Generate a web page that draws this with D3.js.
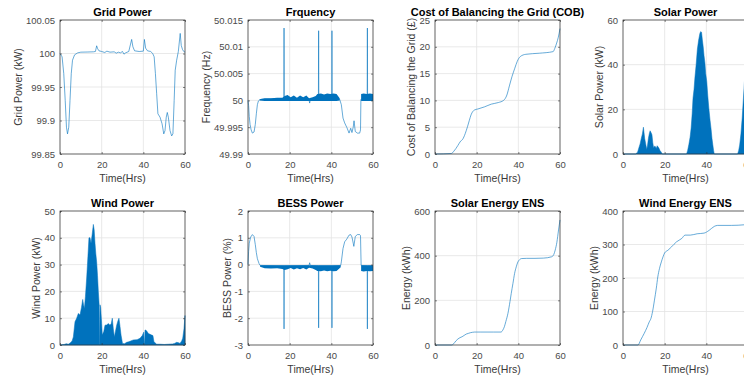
<!DOCTYPE html>
<html>
<head>
<meta charset="utf-8">
<script src="https://cdn.jsdelivr.net/npm/d3@7"></script>
<style>
  body { margin: 0; background: #fff; }
  svg { display: block; font-family: "Liberation Sans", Arial, sans-serif; }
  .tick text { fill: #4a4a4a; font-size: 9.5px; }
</style>
</head>
<body>
<svg id="chart" width="744" height="380"></svg>
<script>
// ---- data (time in hours) ----
const xTicks = [0, 20, 40, 60];

const gridT = [0, 1.0, 1.8, 2.5, 3.1, 3.6, 4.2, 4.8, 5.4, 6.0, 7.0, 8.5, 10, 13, 16, 17.0, 17.6, 18.1, 18.7, 20, 21.5, 22.5, 24, 26, 27, 28, 29, 30, 30.7, 31.5, 33, 34.4, 35.0, 35.8, 38, 40.0, 40.5, 41.1, 42, 43.5, 44.5, 45.2, 45.8, 46.4, 47, 48, 49, 49.8, 50.4, 51.0, 51.5, 52.0, 52.8, 53.6, 54.2, 54.8, 55.3, 56, 56.8, 57.7, 58.2, 58.8, 59.4, 60];
const gridV = [100.0, 99.995, 99.97, 99.93, 99.89, 99.88, 99.89, 99.93, 99.97, 99.99, 99.998, 100.001, 100.002, 100.0022, 100.0025, 100.003, 100.0115, 100.007, 100.004, 100.003, 100.0015, 100.0035, 100.002, 100.0025, 100.0005, 100.002, 100.001, 100.003, 99.999, 100.001, 100.003, 100.021, 100.01, 100.004, 100.003, 100.0035, 100.021, 100.008, 100.004, 100.003, 100.0, 99.995, 99.97, 99.94, 99.91, 99.905, 99.895, 99.88, 99.885, 99.905, 99.912, 99.905, 99.885, 99.877, 99.88, 99.93, 99.975, 99.99, 100.003, 100.03, 100.012, 100.006, 100.003, 100.002];

const freqT = [0, 0.3, 0.6, 1.0, 1.5, 2.1, 2.9, 3.5, 4.0, 4.5, 5.0, 5.6, 6.5, 17.2, 17.3, 17.4, 29.3, 29.6, 29.9, 33.8, 33.9, 34.0, 40.2, 40.3, 40.4, 44, 44.8, 45.6, 46.4, 47.5, 48.5, 49.3, 49.9, 50.5, 50.9, 51.5, 52.5, 53.6, 54.0, 54.2, 57.2, 57.3, 57.4, 60];
const freqV = [50.0, 49.999, 49.997, 49.9955, 49.9945, 49.9939, 49.9941, 49.9955, 49.9975, 49.9992, 49.9999, 50.0001, 50.0002, 50.0003, 50.0135, 50.0004, 50.0001, 49.9995, 50.0001, 50.0004, 50.013, 50.0005, 50.0005, 50.013, 50.0005, 50.0002, 49.9992, 49.9967, 49.9958, 49.9949, 49.9939, 49.9948, 49.994, 49.995, 49.9962, 49.9942, 49.9939, 49.9939, 49.9945, 50.0002, 50.0005, 50.0135, 50.0005, 50.0005];
const freqBandT  = [5.6, 8, 11, 14, 16.5, 17.6, 19, 20.5, 22, 23.5, 25, 26.5, 28, 29.3, 31, 32.5, 33.3, 35, 36.5, 38, 39.5, 41, 42.5, 44, null, 54.3, 55.5, 57, 58.5, 60];
const freqBandHi = [50.0002, 50.0004, 50.0004, 50.0005, 50.0005, 50.0008, 50.001, 50.0006, 50.0009, 50.0005, 50.0009, 50.0006, 50.0009, 50.0004, 50.0006, 50.0008, 50.0012, 50.0013, 50.0011, 50.0013, 50.0012, 50.0013, 50.0012, 50.0004, null, 50.0012, 50.0013, 50.0012, 50.0013, 50.0012];
const freqBandLo = [50.0, 49.9999, 49.9999, 49.9999, 49.9999, 49.9999, 49.9999, 49.9999, 49.9999, 49.9999, 49.9999, 49.9999, 49.9999, 49.9999, 49.9999, 49.9999, 49.9999, 49.9999, 49.9999, 49.9999, 49.9999, 49.9999, 49.9999, 50.0, null, 49.9999, 49.9999, 49.9999, 49.9999, 49.9999];

const cobT = [0, 7.9, 9, 10, 11, 12.3, 13.2, 14.5, 15.6, 16.5, 17.3, 18.9, 20.6, 23.8, 27, 30.4, 32.9, 34.5, 35.7, 37, 38.3, 39.5, 41, 43.6, 50, 56.7, 57.5, 58.4, 59.2, 60];
const cobV = [0, 0.1, 0.5, 1.0, 1.6, 2.4, 2.7, 3.8, 5.1, 6.3, 7.3, 8.2, 8.4, 8.8, 9.3, 9.6, 10, 11, 12.7, 14.5, 16, 17.3, 18.2, 18.6, 18.8, 19.1, 19.7, 20.7, 21.8, 23.4];

const solarT = [0, 6, 7, 7.6, 8.2, 8.8, 9.3, 9.8, 10.4, 10.9, 11.4, 11.8, 12.2, 12.6, 13, 13.5, 13.9, 14.3, 14.7, 15.1, 15.5, 16, 16.4, 16.8, 17.2, 17.8, 18.3, 18.8, 30.5, 31, 31.6, 32.2, 32.7, 33.2, 33.6, 34.1, 34.5, 35.1, 35.7, 36.3, 36.9, 37.3, 37.7, 38.1, 38.5, 38.9, 39.3, 39.7, 40.2, 40.7, 41.2, 41.8, 42.3, 42.7, 43.1, 43.5, 43.8, 55, 55.5, 56, 56.6, 57.2, 57.8, 58.3, 58.8, 59.3, 60];
const solarV = [0, 0, 0.8, 2.7, 4.5, 7.1, 9, 12, 7, 4.5, 2, 4, 7, 9, 10.4, 9.5, 8.6, 5, 2.7, 3.5, 3.4, 2.5, 3.7, 3.2, 2.7, 1.5, 0.9, 0, 0, 1.5, 4.2, 7.5, 11.6, 18, 25, 29, 34, 40, 47, 51, 54, 54.8, 54.5, 51, 48, 44, 41, 36, 32.5, 26, 20.5, 15, 11, 7, 4.2, 1.5, 0, 0, 1.5, 4, 9, 16, 25, 32.5, 38, 43, 48];

const windT = [0, 2, 3, 4, 5, 5.8, 6.4, 7.2, 8, 8.8, 9.6, 10.3, 10.9, 11.3, 11.7, 12.2, 12.8, 13.4, 13.9, 14.4, 14.9, 15.4, 16, 16.4, 16.8, 17.2, 17.6, 18, 18.4, 18.8, 19.0, 19.1, 19.2, 19.5, 20, 20.3, 21, 21.6, 22.4, 23.2, 24, 24.6, 25.1, 25.6, 26.1, 26.6, 27.2, 27.8, 28.3, 28.8, 29.3, 30, 31, 32, 33, 35.2, 37, 38.4, 39.5, 40.2, 40.5, 40.6, 40.8, 41.3, 41.8, 42.4, 43.2, 44, 44.6, 45.1, 46.4, 48, 50, 52, 54, 55, 56, 57, 57.6, 58.4, 58.9, 59.5, 60];
const windV = [0, 0.2, 0.5, 0.3, 0.8, 1.5, 3, 8.7, 10, 11.8, 11.2, 14, 17, 15, 13.6, 18, 25, 33, 40, 40, 38, 41, 45, 43, 38, 34, 31, 26, 20, 15, 0, 0, 15, 14, 8, 3.7, 5, 7.4, 7.5, 8, 7.4, 8, 10, 6, 3, 5, 7.4, 9, 10, 7, 3.7, 0.6, 0.5, 1, 1.2, 1.9, 2, 2.5, 3.5, 4.8, 0, 0, 5.6, 5.5, 5, 4.3, 4, 3.7, 3.5, 1.2, 0.3, 0.3, 0.2, 0.3, 0.4, 0.6, 1, 0.8, 0.6, 1.5, 2.5, 6, 11];

const bessT = [0, 0.3, 0.6, 1.3, 2.1, 2.9, 3.5, 4.0, 4.5, 5.3, 5.8, 17.2, 17.3, 17.4, 29.3, 29.6, 29.9, 33.8, 33.9, 34.0, 40.2, 40.3, 40.4, 44.5, 44.8, 45.6, 46.4, 47.4, 48.5, 49.3, 49.9, 50.5, 50.8, 51.5, 52.5, 53.6, 54.0, 54.3, 57.2, 57.3, 57.4, 60];
const bessV = [0, 0.5, 0.8, 1.03, 1.12, 1.05, 0.75, 0.45, 0.22, 0.04, -0.03, -0.05, -2.4, -0.05, -0.03, 0.07, -0.03, -0.05, -2.36, -0.05, -0.05, -2.36, -0.05, -0.03, 0.1, 0.6, 0.85, 0.95, 1.1, 1.12, 1.03, 0.8, 0.68, 1.05, 1.12, 1.12, 1.08, -0.03, -0.05, -2.4, -0.05, -0.05];
const bessBandT  = [5.8, 8, 11, 14, 16.5, 17.6, 19, 20.5, 22, 23.5, 25, 26.5, 28, 29.3, 31, 32.5, 33.3, 35, 36.5, 38, 39.5, 41, 42.5, 44.5, null, 54.3, 55.5, 57, 58.5, 60];
const bessBandHi = [-0.02, -0.02, -0.02, -0.02, -0.02, -0.02, -0.02, -0.02, -0.02, -0.02, -0.02, -0.02, -0.02, -0.02, -0.02, -0.02, -0.02, -0.02, -0.02, -0.02, -0.02, -0.02, -0.02, -0.02, null, -0.02, -0.02, -0.02, -0.02, -0.02];
const bessBandLo = [-0.08, -0.14, -0.15, -0.14, -0.16, -0.2, -0.17, -0.13, -0.18, -0.14, -0.17, -0.13, -0.18, -0.12, -0.15, -0.2, -0.24, -0.25, -0.22, -0.25, -0.23, -0.25, -0.24, -0.1, null, -0.24, -0.26, -0.24, -0.25, -0.24];

const solarEnsT = [0, 8, 9, 10, 11, 12, 13, 14, 15, 16, 17, 18, 19, 20, 22, 25, 28, 31.7, 32.5, 33.3, 34, 35, 36, 36.6, 37.4, 38.2, 39, 39.8, 40.6, 41.5, 44, 48, 52, 56, 57, 57.7, 58.5, 59.3, 60];
const solarEnsV = [0, 0, 6, 18, 27, 33, 37, 43, 49, 52, 55, 57, 58, 58, 58, 58, 58, 58, 66, 82, 105, 141, 195, 231, 275, 320, 350, 372, 382, 387, 388, 388, 389, 395, 405, 425, 460, 515, 560];

const windEnsT = [0, 7.2, 8.5, 10.2, 11.5, 12.6, 13.4, 14.2, 15.1, 16, 16.7, 17.5, 18.4, 19.2, 20, 21.6, 23.3, 25.7, 28.2, 29.8, 32.3, 35.6, 38.9, 41.3, 43.8, 45.4, 52, 58.5, 60];
const windEnsV = [0, 0, 15, 35, 52, 69, 79, 100, 134, 170, 203, 228, 248, 263, 275, 283, 293, 308, 318, 328, 328, 332, 334, 342, 354, 357, 357, 359, 360];

// ---- layout ----
const svg = d3.select('#chart');
const W = 125, H = 134;
const colX = [60, 248, 435, 623];
const rowY = [20, 211];
const blue = '#0072BD';

const zip = (t, v) => t.map((d, i) => ({ t: d, v: v[i] }));
const zip3 = (t, lo, hi) => t.map((d, i) => ({ t: d, lo: lo[i], hi: hi[i] }));

function panel(cfg) {
  const g = svg.append('g')
    .attr('transform', `translate(${colX[cfg.col]},${rowY[cfg.row]})`);

  const x = d3.scaleLinear().domain([0, 60]).range([0, W]);
  const y = d3.scaleLinear().domain(cfg.yDomain).range([H, 0]);

  g.append('rect').attr('width', W).attr('height', H).attr('fill', '#fff');

  // grid lines
  g.append('g').selectAll('line').data(xTicks).join('line')
    .attr('x1', d => x(d)).attr('x2', d => x(d))
    .attr('y1', 0).attr('y2', H)
    .attr('stroke', '#e3e3e3').attr('stroke-width', 0.8);
  g.append('g').selectAll('line').data(cfg.yTicks).join('line')
    .attr('x1', 0).attr('x2', W)
    .attr('y1', d => y(d)).attr('y2', d => y(d))
    .attr('stroke', '#e3e3e3').attr('stroke-width', 0.8);

  // data
  const plot = g.append('g');
  cfg.draw(plot, x, y);

  // axes
  g.append('g').attr('transform', `translate(0,${H})`)
    .call(d3.axisBottom(x).tickValues(xTicks).tickFormat(d => String(d))
      .tickSizeInner(-2).tickSizeOuter(0).tickPadding(7));
  const yAxis = g.append('g')
    .call(d3.axisLeft(y).tickValues(cfg.yTicks).tickFormat(d => String(d))
      .tickSizeInner(-2).tickSizeOuter(0).tickPadding(5));
  g.append('g').call(d3.axisTop(x).tickValues(xTicks).tickFormat('').tickSizeInner(-2).tickSizeOuter(0));
  g.append('g').attr('transform', `translate(${W},0)`)
    .call(d3.axisRight(y).tickValues(cfg.yTicks).tickFormat('').tickSizeInner(-2).tickSizeOuter(0));
  g.selectAll('.domain').remove();
  g.selectAll('.tick line').attr('stroke', '#333').attr('stroke-width', 0.6);

  g.append('rect').attr('width', W).attr('height', H)
    .attr('fill', 'none').attr('stroke', '#333').attr('stroke-width', 0.7);

  // labels
  g.append('text')
    .attr('x', W / 2).attr('y', -4.5)
    .attr('text-anchor', 'middle')
    .attr('font-size', 11).attr('font-weight', 'bold').attr('fill', '#000')
    .text(cfg.title);

  g.append('text')
    .attr('x', W / 2).attr('y', H + 27.5)
    .attr('text-anchor', 'middle')
    .attr('font-size', 10.5).attr('fill', '#3a3a3a')
    .text('Time(Hrs)');

  const left = d3.min(yAxis.selectAll('text').nodes(), n => n.getBBox().x);
  g.append('text')
    .attr('transform', `translate(${left - 4},${H / 2}) rotate(-90)`)
    .attr('text-anchor', 'middle')
    .attr('font-size', 10.5).attr('fill', '#3a3a3a')
    .text(cfg.ylabel);
}

function drawLine(t, v, curve) {
  return (p, x, y) => {
    p.append('path').datum(zip(t, v))
      .attr('fill', 'none').attr('stroke', blue).attr('stroke-width', 0.8)
      .attr('stroke-opacity', 0.75)
      .attr('d', d3.line().x(d => x(d.t)).y(d => y(d.v)).curve(curve || d3.curveLinear));
  };
}

function drawNoisy(t, v, bt, blo, bhi) {
  return (p, x, y) => {
    p.append('path').datum(zip3(bt, blo, bhi))
      .attr('fill', blue)
      .attr('d', d3.area().defined(d => d.t != null)
        .x(d => x(d.t)).y0(d => y(d.lo)).y1(d => y(d.hi)));
    drawLine(t, v)(p, x, y);
  };
}

function drawArea(t, v) {
  return (p, x, y) => {
    p.append('path').datum(zip(t, v))
      .attr('fill', blue).attr('stroke', blue).attr('stroke-width', 0.5)
      .attr('d', d3.area().x(d => x(d.t)).y0(y(0)).y1(d => y(d.v)));
  };
}

const panels = [
  { col: 0, row: 0, title: 'Grid Power', ylabel: 'Grid Power (kW)',
    yDomain: [99.85, 100.05], yTicks: [99.85, 99.9, 99.95, 100, 100.05],
    draw: drawLine(gridT, gridV) },
  { col: 1, row: 0, title: 'Frquency', ylabel: 'Frequency (Hz)',
    yDomain: [49.99, 50.015], yTicks: [49.99, 49.995, 50, 50.005, 50.01, 50.015],
    draw: drawNoisy(freqT, freqV, freqBandT, freqBandLo, freqBandHi) },
  { col: 2, row: 0, title: 'Cost of Balancing the Grid (COB)', ylabel: 'Cost of Balancing the Grid (£)',
    yDomain: [0, 25], yTicks: [0, 5, 10, 15, 20, 25],
    draw: drawLine(cobT, cobV, d3.curveMonotoneX) },
  { col: 3, row: 0, title: 'Solar Power', ylabel: 'Solar Power (kW)',
    yDomain: [0, 60], yTicks: [0, 20, 40, 60],
    draw: drawArea(solarT, solarV) },
  { col: 0, row: 1, title: 'Wind Power', ylabel: 'Wind Power (kW)',
    yDomain: [0, 50], yTicks: [0, 10, 20, 30, 40, 50],
    draw: drawArea(windT, windV) },
  { col: 1, row: 1, title: 'BESS Power', ylabel: 'BESS Power (%)',
    yDomain: [-3, 2], yTicks: [-3, -2, -1, 0, 1, 2],
    draw: drawNoisy(bessT, bessV, bessBandT, bessBandLo, bessBandHi) },
  { col: 2, row: 1, title: 'Solar Energy ENS', ylabel: 'Energy (kWh)',
    yDomain: [0, 600], yTicks: [0, 200, 400, 600],
    draw: drawLine(solarEnsT, solarEnsV, d3.curveMonotoneX) },
  { col: 3, row: 1, title: 'Wind Energy ENS', ylabel: 'Energy (kWh)',
    yDomain: [0, 400], yTicks: [0, 100, 200, 300, 400],
    draw: drawLine(windEnsT, windEnsV, d3.curveMonotoneX) }
];

panels.forEach(panel);
</script>
</body>
</html>
